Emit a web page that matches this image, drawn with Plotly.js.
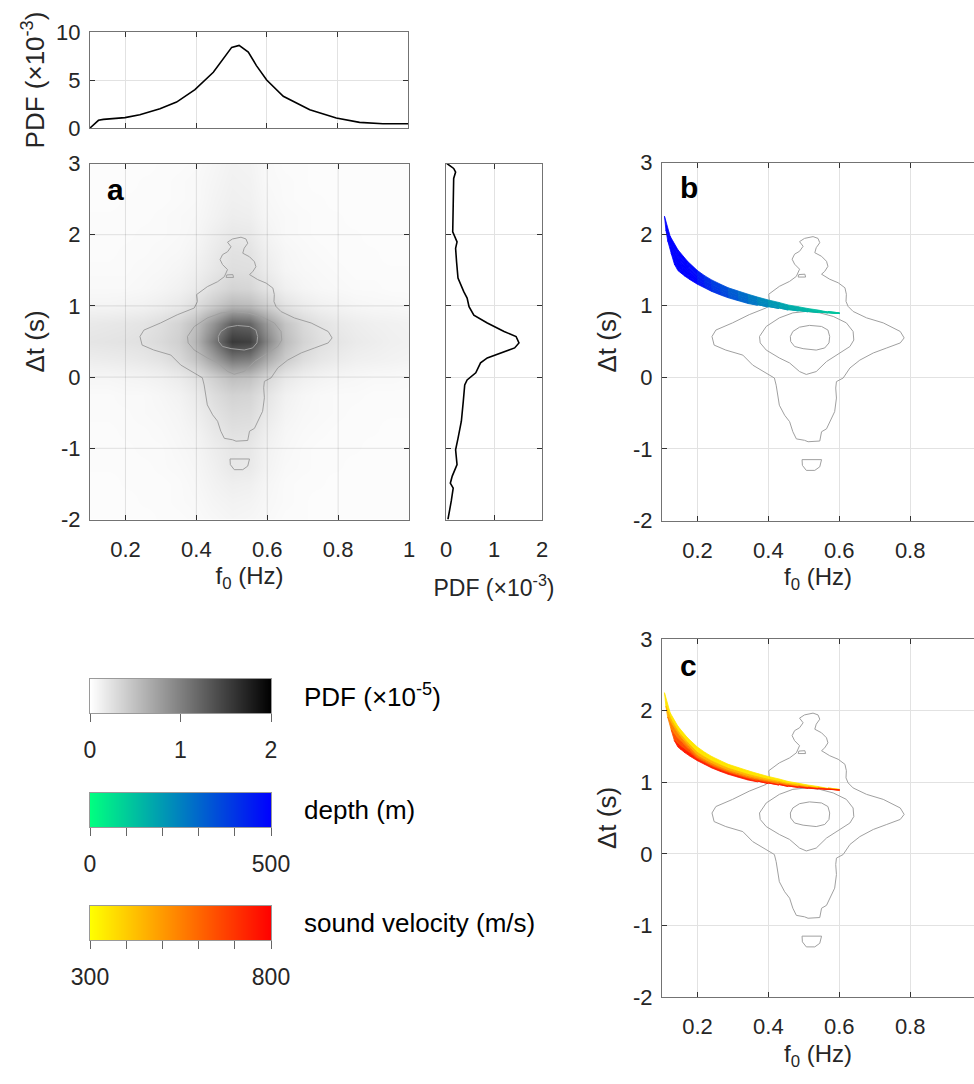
<!DOCTYPE html>
<html>
<head>
<meta charset="utf-8">
<script src="https://cdn.plot.ly/plotly-3.0.1.min.js"></script>
<style>html,body{margin:0;padding:0;background:#fff;}#chart{width:974px;height:1084px;}</style>
</head>
<body>
<div id="chart"></div>
<script>
// ---------------- DATA ----------------
// 2-D PDF grid (values in units of 1e-5)
const pdfF0 = [0.1,0.15,0.2,0.25,0.3,0.35,0.4,0.45,0.5,0.55,0.6,0.65,0.7,0.75,0.8,0.85,0.9,0.95,1.0];
const pdfDt = [-2,-1.75,-1.5,-1.25,-1,-0.75,-0.5,-0.25,0,0.25,0.5,0.75,1,1.25,1.5,1.75,2,2.25,2.5,2.75,3];
const pdfZ = [
 [0.02,0.02,0.02,0.02,0.03,0.03,0.04,0.06,0.08,0.07,0.05,0.03,0.03,0.02,0.02,0.02,0.02,0.02,0.02],
 [0.02,0.02,0.02,0.03,0.03,0.04,0.05,0.08,0.10,0.09,0.06,0.04,0.03,0.02,0.02,0.02,0.02,0.02,0.02],
 [0.02,0.02,0.03,0.03,0.03,0.04,0.06,0.10,0.13,0.12,0.07,0.04,0.03,0.03,0.02,0.02,0.02,0.02,0.02],
 [0.03,0.03,0.03,0.03,0.04,0.05,0.07,0.12,0.18,0.17,0.09,0.05,0.04,0.03,0.03,0.02,0.02,0.02,0.02],
 [0.03,0.03,0.03,0.04,0.04,0.06,0.08,0.14,0.19,0.18,0.10,0.06,0.04,0.03,0.03,0.03,0.02,0.02,0.02],
 [0.03,0.03,0.04,0.04,0.05,0.07,0.10,0.18,0.24,0.23,0.13,0.07,0.05,0.04,0.03,0.03,0.03,0.02,0.02],
 [0.04,0.04,0.04,0.05,0.06,0.08,0.13,0.22,0.29,0.28,0.17,0.09,0.06,0.05,0.04,0.03,0.03,0.03,0.03],
 [0.04,0.04,0.05,0.05,0.07,0.10,0.16,0.27,0.35,0.33,0.21,0.11,0.07,0.05,0.04,0.04,0.03,0.03,0.03],
 [0.07,0.07,0.08,0.09,0.11,0.15,0.23,0.37,0.50,0.47,0.31,0.18,0.12,0.09,0.07,0.06,0.05,0.05,0.04],
 [0.14,0.15,0.16,0.18,0.22,0.30,0.45,0.75,1.05,1.00,0.65,0.40,0.26,0.19,0.15,0.12,0.11,0.10,0.09],
 [0.20,0.21,0.22,0.24,0.29,0.37,0.57,1.05,1.55,1.50,0.95,0.52,0.34,0.25,0.20,0.16,0.14,0.12,0.11],
 [0.17,0.18,0.19,0.21,0.26,0.34,0.50,0.85,1.25,1.20,0.78,0.46,0.30,0.22,0.17,0.14,0.12,0.11,0.10],
 [0.08,0.08,0.09,0.10,0.13,0.17,0.26,0.40,0.55,0.52,0.37,0.22,0.15,0.11,0.09,0.07,0.06,0.06,0.05],
 [0.05,0.05,0.05,0.06,0.08,0.11,0.16,0.26,0.34,0.32,0.21,0.12,0.08,0.06,0.05,0.04,0.04,0.03,0.03],
 [0.04,0.04,0.04,0.05,0.06,0.08,0.12,0.19,0.26,0.25,0.15,0.08,0.06,0.05,0.04,0.03,0.03,0.03,0.03],
 [0.03,0.03,0.04,0.04,0.05,0.06,0.09,0.16,0.23,0.22,0.12,0.07,0.05,0.04,0.03,0.03,0.03,0.02,0.02],
 [0.03,0.03,0.03,0.04,0.04,0.05,0.07,0.13,0.18,0.17,0.09,0.05,0.04,0.03,0.03,0.03,0.02,0.02,0.02],
 [0.03,0.03,0.03,0.03,0.04,0.05,0.06,0.10,0.14,0.13,0.07,0.05,0.04,0.03,0.03,0.02,0.02,0.02,0.02],
 [0.02,0.02,0.03,0.03,0.03,0.04,0.05,0.09,0.12,0.11,0.06,0.04,0.03,0.03,0.02,0.02,0.02,0.02,0.02],
 [0.02,0.02,0.02,0.03,0.03,0.04,0.05,0.08,0.11,0.10,0.05,0.04,0.03,0.02,0.02,0.02,0.02,0.02,0.02],
 [0.02,0.02,0.02,0.02,0.03,0.03,0.04,0.07,0.10,0.09,0.05,0.03,0.03,0.02,0.02,0.02,0.02,0.02,0.02]
];

// marginal PDF of f0 (x1e-3)
const margF0    = [0.1,0.124,0.138,0.199,0.241,0.298,0.345,0.397,0.449,0.501,0.522,0.548,0.571,0.600,0.647,0.722,0.797,0.863,0.929,1.0];
const margF0Pdf = [0,0.8,0.9,1.08,1.39,2.0,2.7,4.0,5.8,8.4,8.6,7.9,6.5,5.0,3.3,1.9,1.04,0.59,0.45,0.45];

// marginal PDF of dt (x1e-3)
const margDt    = [3.0,2.93,2.88,2.79,2.41,2.04,1.90,1.81,1.62,1.39,1.20,1.11,0.99,0.87,0.76,0.64,0.57,0.48,0.41,0.34,0.27,0.20,0.06,-0.04,-0.11,-0.34,-0.62,-0.86,-1.02,-1.23,-1.39,-1.49,-1.56,-1.74,-1.93,-2.0];
const margDtPdf = [0.02,0.16,0.20,0.16,0.15,0.14,0.23,0.20,0.22,0.25,0.37,0.44,0.48,0.58,0.86,1.21,1.46,1.52,1.43,1.14,0.86,0.72,0.62,0.44,0.39,0.36,0.32,0.25,0.20,0.23,0.13,0.09,0.15,0.11,0.06,0.04];

// contour lines of the 2-D PDF
const outerF0 = [0.488,0.502,0.526,0.540,0.545,0.535,0.531,0.550,0.564,0.568,0.559,0.550,0.573,0.597,0.616,0.620,0.619,0.625,0.639,0.677,0.724,0.772,0.783,0.772,0.734,0.696,0.658,0.630,0.611,0.592,0.590,0.592,0.587,0.573,0.564,0.550,0.545,0.512,0.502,0.479,0.469,0.460,0.446,0.431,0.427,0.422,0.417,0.394,0.356,0.328,0.280,0.247,0.241,0.252,0.299,0.346,0.394,0.403,0.401,0.431,0.460,0.479,0.488,0.474,0.467,0.474,0.488,0.498,0.488];
const outerDt = [1.895,1.94,1.965,1.94,1.88,1.81,1.74,1.69,1.62,1.55,1.48,1.44,1.37,1.32,1.25,1.16,1.06,0.99,0.92,0.83,0.76,0.64,0.55,0.48,0.41,0.34,0.24,0.13,-0.01,-0.06,-0.15,-0.29,-0.48,-0.62,-0.72,-0.76,-0.89,-0.90,-0.88,-0.86,-0.76,-0.62,-0.53,-0.39,-0.25,-0.11,-0.01,0.06,0.17,0.31,0.38,0.45,0.57,0.66,0.76,0.875,0.97,1.06,1.16,1.27,1.34,1.41,1.51,1.58,1.65,1.72,1.76,1.83,1.895];
const middleF0 = [0.375,0.394,0.431,0.469,0.507,0.545,0.583,0.620,0.639,0.641,0.630,0.602,0.564,0.535,0.507,0.488,0.460,0.431,0.394,0.377,0.375];
const middleDt = [0.57,0.71,0.83,0.90,0.92,0.90,0.85,0.76,0.64,0.52,0.43,0.34,0.22,0.08,0.04,0.08,0.20,0.27,0.38,0.48,0.57];
const innerF0 = [0.462,0.469,0.488,0.516,0.550,0.568,0.573,0.571,0.559,0.535,0.498,0.474,0.463,0.462];
const innerDt = [0.57,0.64,0.70,0.725,0.71,0.66,0.57,0.48,0.41,0.38,0.40,0.43,0.50,0.57];
const islandUpF0 = [0.484,0.486,0.503,0.505,0.484];
const islandUpDt = [1.40,1.435,1.44,1.40,1.40];
const islandLowF0 = [0.495,0.550,0.545,0.531,0.507,0.496,0.495];
const islandLowDt = [-1.15,-1.15,-1.25,-1.30,-1.30,-1.23,-1.15];

// model band: one curve per sound velocity (m/s), sampled along f0
const bandVel = [300,400,500,600,700,800];
const bandF0 = [
 [0.107,0.123,0.145,0.172,0.2,0.22,0.24,0.265,0.287,0.315,0.343,0.37,0.4,0.43,0.456,0.485,0.512,0.54,0.568,0.601],
 [0.111,0.125,0.147,0.173,0.2,0.22,0.24,0.265,0.287,0.315,0.343,0.37,0.4,0.43,0.456,0.485,0.512,0.54,0.568,0.601],
 [0.116,0.129,0.150,0.175,0.2,0.22,0.24,0.265,0.287,0.315,0.343,0.37,0.4,0.43,0.456,0.485,0.512,0.54,0.568,0.601],
 [0.126,0.137,0.155,0.177,0.2,0.22,0.24,0.265,0.287,0.315,0.343,0.37,0.4,0.43,0.456,0.485,0.512,0.54,0.568,0.601],
 [0.135,0.145,0.160,0.179,0.2,0.22,0.24,0.265,0.287,0.315,0.343,0.37,0.4,0.43,0.456,0.485,0.512,0.54,0.568,0.601],
 [0.145,0.155,0.165,0.180,0.2,0.22,0.24,0.265,0.287,0.315,0.343,0.37,0.4,0.43,0.456,0.485,0.512,0.54,0.568,0.601]
];
const bandDt = [
 [2.25,1.97,1.78,1.62,1.49,1.42,1.36,1.30,1.25,1.205,1.16,1.12,1.08,1.045,1.01,0.985,0.96,0.94,0.92,0.905],
 [2.06,1.88,1.70,1.55,1.414,1.352,1.296,1.24,1.194,1.151,1.108,1.074,1.04,1.011,0.982,0.962,0.942,0.927,0.912,0.899],
 [1.91,1.79,1.64,1.50,1.368,1.311,1.258,1.204,1.160,1.119,1.077,1.046,1.016,0.991,0.965,0.948,0.931,0.919,0.907,0.895],
 [1.73,1.65,1.56,1.45,1.338,1.284,1.232,1.18,1.138,1.097,1.056,1.028,1.0,0.977,0.954,0.939,0.924,0.914,0.904,0.893],
 [1.58,1.53,1.47,1.40,1.317,1.265,1.214,1.164,1.123,1.082,1.042,1.015,0.989,0.968,0.946,0.932,0.919,0.910,0.902,0.891],
 [1.49,1.45,1.41,1.36,1.30,1.25,1.20,1.15,1.11,1.07,1.03,1.005,0.98,0.96,0.94,0.927,0.915,0.907,0.90,0.89]
];
const bandDepth = [
 [600,570,540,500,450,420,390,360,330,300,270,240,210,185,165,150,135,125,115,105],
 [612,581,551,510,459,428,398,367,337,306,275,245,214,189,168,153,138,128,117,107],
 [624,593,562,520,468,437,406,374,343,312,281,250,218,192,172,156,140,130,120,109],
 [633,601,570,528,475,443,411,380,348,317,285,253,222,195,174,158,142,132,121,111],
 [639,607,575,533,479,447,415,383,351,320,288,256,224,197,176,160,144,133,122,112],
 [645,613,581,538,484,452,419,387,355,323,290,258,226,199,177,161,145,134,124,113]
];

// colour-bar ranges and ticks
const pdfRange = [0,2];
const pdfTicks = [0,1,2];
const depthRange = [0,500];
const depthTicks = [0,100,200,300,400,500];
const depthTickText = ['0','','','','','500'];
const velRange = [300,800];
const velTicks = [300,400,500,600,700,800];
const velTickText = ['300','','','','','800'];

// ---------------- STYLE HELPERS ----------------
const W = 974, H = 1084;
const FONT = 'Liberation Sans, Arial, Helvetica, sans-serif';
const TXT = '#262626';
const px = v => v / W;
const py = v => 1 - v / H;
function clamp(t){ return Math.max(0, Math.min(1, t)); }
function depthColor(d){ const t = clamp(d/500); return 'rgb(0,'+Math.round(255*(1-t))+','+Math.round(128+127*t)+')'; }
function velColor(v){ const t = clamp((v-300)/500); return 'rgb(255,'+Math.round(255*(1-t))+',0)'; }
const grayScale = [[0,'#ffffff'],[1,'#000000']];
const depthScale = [[0,'rgb(0,255,128)'],[1,'rgb(0,0,255)']];
const velScale = [[0,'rgb(255,255,0)'],[1,'rgb(255,0,0)']];

function axis(o){
  return Object.assign({
    showline:true, linecolor:'#737373', linewidth:1, mirror:'ticks',
    ticks:'inside', ticklen:5, tickcolor:'#333', tickwidth:1,
    showgrid:true, gridcolor:'#e2e2e2', gridwidth:1, zeroline:false,
    tickfont:{family:FONT, size:22, color:TXT}, fixedrange:true
  }, o);
}
const dtTicks = [-2,-1,0,1,2,3];
const dtText = ['-2','-1','0','1','2','3'];

const traces = [];

// panel a heatmap
traces.push({
  type:'heatmap', x:pdfF0, y:pdfDt, z:pdfZ, zsmooth:'best', xaxis:'x2', yaxis:'y2',
  zmin:pdfRange[0], zmax:pdfRange[1], colorscale:grayScale, hoverinfo:'skip', showscale:false
});

// contours in a, b, c
const contourSets = [[outerF0,outerDt],[middleF0,middleDt],[innerF0,innerDt],[islandUpF0,islandUpDt],[islandLowF0,islandLowDt]];
[['x2','y2'],['x4','y4'],['x5','y5']].forEach(([xa,ya])=>{
  contourSets.forEach(([cx,cy])=>{
    traces.push({type:'scatter', mode:'lines', x:cx, y:cy, xaxis:xa, yaxis:ya,
      line:{color:'#a0a0a0', width:1}, hoverinfo:'skip', showlegend:false});
  });
});

// marginals
traces.push({type:'scatter', mode:'lines', x:margF0, y:margF0Pdf, xaxis:'x', yaxis:'y',
  line:{color:'#000', width:1.6}, hoverinfo:'skip'});
traces.push({type:'scatter', mode:'lines', x:margDtPdf, y:margDt, xaxis:'x3', yaxis:'y3',
  line:{color:'#000', width:1.6}, hoverinfo:'skip'});

// band cells
function addBand(xa, ya, colorFn){
  for(let i=0;i<bandVel.length-1;i++){
    for(let k=0;k<bandF0[i].length-1;k++){
      const xs=[bandF0[i][k],bandF0[i][k+1],bandF0[i+1][k+1],bandF0[i+1][k],bandF0[i][k]];
      const ys=[bandDt[i][k],bandDt[i][k+1],bandDt[i+1][k+1],bandDt[i+1][k],bandDt[i][k]];
      const c = colorFn(i,k);
      traces.push({type:'scatter', mode:'lines', x:xs, y:ys, xaxis:xa, yaxis:ya, fill:'toself',
        fillcolor:c, line:{color:c, width:0.8}, hoverinfo:'skip', showlegend:false});
    }
  }
}
addBand('x4','y4',(i,k)=>depthColor((bandDepth[i][k]+bandDepth[i][k+1]+bandDepth[i+1][k]+bandDepth[i+1][k+1])/4));
addBand('x5','y5',(i,k)=>velColor((bandVel[i]+bandVel[i+1])/2));

// colour bars drawn as gradient strips on their own axes
function colorStrip(range, scale, xa, ya){
  traces.push({type:'heatmap', x:range, y:[0], z:[range], zmin:range[0], zmax:range[1], zsmooth:'best',
    colorscale:scale, showscale:false, xaxis:xa, yaxis:ya, hoverinfo:'skip'});
}
colorStrip(pdfRange, grayScale, 'x6', 'y6');
colorStrip(depthRange, depthScale, 'x7', 'y7');
colorStrip(velRange, velScale, 'x8', 'y8');

function barX(range, tv, tt, anchor){
  return {domain:[px(90),px(271)], range:range, tickvals:tv, ticktext:tt, anchor:anchor,
    showline:true, mirror:true, linecolor:'#9a9a9a', linewidth:1, ticks:'outside', ticklen:8, tickcolor:'#666',
    showgrid:false, zeroline:false, tickfont:{family:FONT,size:23,color:TXT}, ticklabelstandoff:8, fixedrange:true};
}
function barY(top, bottom, anchor){
  return {domain:[py(bottom),py(top)], range:[-0.5,0.5], anchor:anchor, showline:true, mirror:true,
    linecolor:'#9a9a9a', linewidth:1, ticks:'', showticklabels:false, showgrid:false, zeroline:false, fixedrange:true};
}

const xTitleFont = {family:FONT, size:24, color:TXT};
const yTitleFont = {family:FONT, size:26, color:TXT};
const f0Title = {text:'f<sub>0</sub> (Hz)', font:xTitleFont, standoff:6};
const dtTitle = {text:'\u0394t (s)', font:yTitleFont, standoff:8};

// grid lines of panel a, drawn above the heatmap
const shapes = [];
[0.2,0.4,0.6,0.8].forEach(v=>shapes.push({type:'line', xref:'x2', yref:'y2 domain', x0:v, x1:v, y0:0, y1:1, layer:'above', line:{color:'rgba(0,0,0,0.11)', width:1}}));
[-1,0,1,2].forEach(v=>shapes.push({type:'line', xref:'x2 domain', yref:'y2', x0:0, x1:1, y0:v, y1:v, layer:'above', line:{color:'rgba(0,0,0,0.11)', width:1}}));

const layout = {
  width:W, height:H, margin:{l:0,r:0,t:0,b:0}, paper_bgcolor:'#fff', plot_bgcolor:'#fff',
  showlegend:false, font:{family:FONT, color:TXT},
  xaxis: axis({domain:[px(90),px(408)], range:[0.1,1], tickvals:[0.2,0.4,0.6,0.8,1], showticklabels:false, anchor:'y'}),
  yaxis: axis({domain:[py(128),py(32)], range:[0,10], tickvals:[0,5,10], anchor:'x', ticklabelstandoff:4,
    title:{text:'PDF (\u00d710<sup>-3</sup>)', font:yTitleFont, standoff:4}}),
  xaxis2: axis({domain:[px(90),px(409)], range:[0.1,1], tickvals:[0.2,0.4,0.6,0.8,1], ticktext:['0.2','0.4','0.6','0.8','1'], anchor:'y2', title:f0Title, showgrid:false, ticklabelstandoff:10}),
  yaxis2: axis({domain:[py(519.5),py(163.5)], range:[-2,3], tickvals:dtTicks, ticktext:dtText, anchor:'x2', title:dtTitle, showgrid:false, ticklabelstandoff:4}),
  xaxis3: axis({domain:[px(446),px(542)], range:[0,2], tickvals:[0,1,2], anchor:'y3', ticklabelstandoff:10,
    title:{text:'PDF (\u00d710<sup>-3</sup>)', font:{family:FONT,size:23,color:TXT}, standoff:18}}),
  yaxis3: axis({domain:[py(519.5),py(163.5)], range:[-2,3], tickvals:dtTicks, showticklabels:false, anchor:'x3'}),
  xaxis4: axis({domain:[px(662),1], range:[0.1,0.98], tickvals:[0.2,0.4,0.6,0.8], ticktext:['0.2','0.4','0.6','0.8'], anchor:'y4', title:f0Title, mirror:'ticks', ticklabelstandoff:10}),
  yaxis4: axis({domain:[py(520.5),py(162.5)], range:[-2,3], tickvals:dtTicks, ticktext:dtText, anchor:'x4', title:dtTitle, mirror:false, ticklabelstandoff:4}),
  xaxis5: axis({domain:[px(662),1], range:[0.1,0.98], tickvals:[0.2,0.4,0.6,0.8], ticktext:['0.2','0.4','0.6','0.8'], anchor:'y5', title:f0Title, mirror:'ticks', ticklabelstandoff:10}),
  yaxis5: axis({domain:[py(997),py(639)], range:[-2,3], tickvals:dtTicks, ticktext:dtText, anchor:'x5', title:dtTitle, mirror:false, ticklabelstandoff:4}),
  xaxis6: barX(pdfRange, pdfTicks, ['0','1','2'], 'y6'),
  yaxis6: barY(679, 713, 'x6'),
  xaxis7: barX(depthRange, depthTicks, depthTickText, 'y7'),
  yaxis7: barY(793, 827, 'x7'),
  xaxis8: barX(velRange, velTicks, velTickText, 'y8'),
  yaxis8: barY(906, 940, 'x8'),
  shapes: shapes,
  annotations:[
    {text:'<b>a</b>', xref:'paper', yref:'paper', x:px(105), y:py(190), xanchor:'left', yanchor:'middle', showarrow:false, font:{family:FONT,size:30,color:'#000'}},
    {text:'<b>b</b>', xref:'paper', yref:'paper', x:px(678), y:py(188), xanchor:'left', yanchor:'middle', showarrow:false, font:{family:FONT,size:30,color:'#000'}},
    {text:'<b>c</b>', xref:'paper', yref:'paper', x:px(678), y:py(665), xanchor:'left', yanchor:'middle', showarrow:false, font:{family:FONT,size:30,color:'#000'}},
    {text:'PDF (\u00d710<sup>-5</sup>)', xref:'paper', yref:'paper', x:px(302), y:py(695), xanchor:'left', yanchor:'middle', showarrow:false, font:{family:FONT,size:26,color:'#000'}},
    {text:'depth (m)', xref:'paper', yref:'paper', x:px(302), y:py(810), xanchor:'left', yanchor:'middle', showarrow:false, font:{family:FONT,size:26,color:'#000'}},
    {text:'sound velocity (m/s)', xref:'paper', yref:'paper', x:px(302), y:py(923), xanchor:'left', yanchor:'middle', showarrow:false, font:{family:FONT,size:26,color:'#000'}}
  ]
};

Plotly.newPlot('chart', traces, layout, {staticPlot:true, displayModeBar:false});
</script>
</body>
</html>
